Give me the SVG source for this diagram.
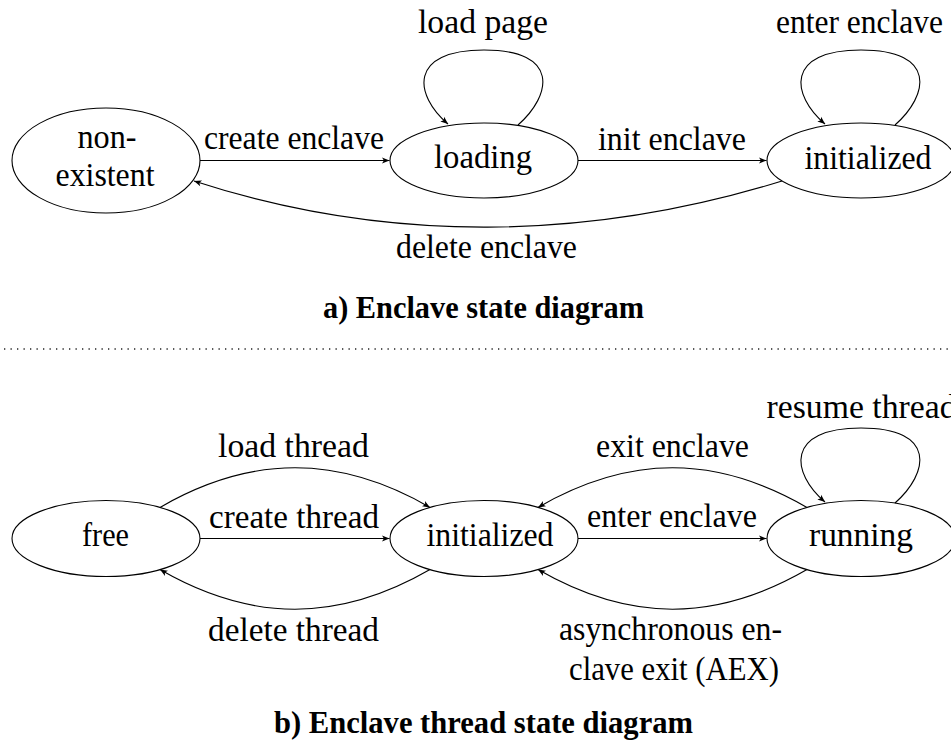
<svg xmlns="http://www.w3.org/2000/svg" width="951" height="742" viewBox="0 0 951 742">
  <style>
    .state { fill: #ffffff; stroke: #000000; stroke-width: 1.1; }
    .edge { fill: none; stroke: #000000; stroke-width: 1.1; }
    .arrow { marker-end: url(#tip); }
    .lbl { font-family: "Liberation Serif", "Times New Roman", serif; font-size: 33px; fill: #000000; text-anchor: middle; }
    .cap { font-family: "Liberation Serif", "Times New Roman", serif; font-size: 31px; font-weight: bold; fill: #000000; text-anchor: middle; }
    .sep { fill: none; stroke: #222222; stroke-width: 1.3; stroke-dasharray: 1.3 5.2; }
  </style>
  <defs>
    <marker id="tip" markerUnits="userSpaceOnUse" viewBox="-8 -4 9 8" markerWidth="9" markerHeight="8" refX="0" refY="0" orient="auto">
      <path d="M0,0 L-7.5,-3 L-5.6,0 L-7.5,3 Z" fill="#000000"/>
    </marker>
  </defs>

  <!-- a) enclave states -->
  <g id="node-nonexistent">
    <ellipse class="state" cx="106" cy="160.5" rx="94" ry="52.5"/>
    <text class="lbl" x="107" y="148" textLength="59" lengthAdjust="spacingAndGlyphs">non-</text>
    <text class="lbl" x="105" y="186" textLength="99" lengthAdjust="spacingAndGlyphs">existent</text>
  </g>
  <g id="node-loading">
    <ellipse class="state" cx="484" cy="160.5" rx="94" ry="37.5"/>
    <text class="lbl" x="483" y="168" textLength="98" lengthAdjust="spacingAndGlyphs">loading</text>
  </g>
  <g id="node-initialized-a">
    <ellipse class="state" cx="861" cy="160.5" rx="94" ry="37.5"/>
    <text class="lbl" x="868" y="169" textLength="127" lengthAdjust="spacingAndGlyphs">initialized</text>
  </g>

  <g id="edges-a">
    <path class="edge arrow" d="M200,160.5 H389.5"/>
    <path class="edge arrow" d="M578,160.5 H766.5"/>
    <path class="edge arrow" d="M518,125 C552,95 560,50 484,50 C408,50 414,95 448,124"/>
    <path class="edge arrow" d="M895,125 C929,95 937,50 861,50 C785,50 791,95 825,124"/>
    <path class="edge arrow" d="M782,181 C588,241 387,244 194,181"/>
    <text class="lbl" x="483" y="33" textLength="130" lengthAdjust="spacingAndGlyphs">load page</text>
    <text class="lbl" x="859.5" y="33" textLength="167" lengthAdjust="spacingAndGlyphs">enter enclave</text>
    <text class="lbl" x="294" y="149" textLength="180" lengthAdjust="spacingAndGlyphs">create enclave</text>
    <text class="lbl" x="672" y="150" textLength="148" lengthAdjust="spacingAndGlyphs">init enclave</text>
    <text class="lbl" x="486.5" y="258" textLength="181" lengthAdjust="spacingAndGlyphs">delete enclave</text>
  </g>

  <text class="cap" x="483.5" y="318" textLength="321" lengthAdjust="spacingAndGlyphs">a) Enclave state diagram</text>

  <!-- separator between the two diagrams -->
  <path class="sep" d="M4,349 H951"/>

  <!-- b) enclave thread states -->
  <g id="node-free">
    <ellipse class="state" cx="106" cy="538.5" rx="94" ry="38"/>
    <text class="lbl" x="105.5" y="546" textLength="47" lengthAdjust="spacingAndGlyphs">free</text>
  </g>
  <g id="node-initialized-b">
    <ellipse class="state" cx="484" cy="538.5" rx="94" ry="38"/>
    <text class="lbl" x="490" y="546" textLength="127" lengthAdjust="spacingAndGlyphs">initialized</text>
  </g>
  <g id="node-running">
    <ellipse class="state" cx="861" cy="538.5" rx="94" ry="38"/>
    <text class="lbl" x="861" y="546" textLength="104" lengthAdjust="spacingAndGlyphs">running</text>
  </g>

  <g id="edges-b">
    <path class="edge arrow" d="M160,507.4 C251.3,454.6 338.7,454.6 430,507.4"/>
    <path class="edge arrow" d="M200,538.5 H389.5"/>
    <path class="edge arrow" d="M430,569.6 C338.7,622.4 251.3,622.4 160,569.6"/>
    <path class="edge arrow" d="M578,538.5 H766.5"/>
    <path class="edge arrow" d="M807,507.4 C715.6,454.6 629.4,454.6 538,507.4"/>
    <path class="edge arrow" d="M807,569.6 C715.6,622.4 629.4,622.4 538,569.6"/>
    <path class="edge arrow" d="M895,503 C929,473 937,428 861,428 C785,428 791,473 825,502"/>
    <text class="lbl" x="293.5" y="457" textLength="151" lengthAdjust="spacingAndGlyphs">load thread</text>
    <text class="lbl" x="294" y="528" textLength="170" lengthAdjust="spacingAndGlyphs">create thread</text>
    <text class="lbl" x="293.5" y="641" textLength="171" lengthAdjust="spacingAndGlyphs">delete thread</text>
    <text class="lbl" x="672.5" y="457" textLength="153" lengthAdjust="spacingAndGlyphs">exit enclave</text>
    <text class="lbl" x="672" y="527" textLength="170" lengthAdjust="spacingAndGlyphs">enter enclave</text>
    <text class="lbl" x="861.5" y="418" textLength="190" lengthAdjust="spacingAndGlyphs">resume thread</text>
    <text class="lbl" x="670.5" y="640" textLength="223" lengthAdjust="spacingAndGlyphs">asynchronous en-</text>
    <text class="lbl" x="674" y="680" textLength="210" lengthAdjust="spacingAndGlyphs">clave exit (AEX)</text>
  </g>

  <text class="cap" x="483.5" y="733" textLength="419" lengthAdjust="spacingAndGlyphs">b) Enclave thread state diagram</text>
</svg>
